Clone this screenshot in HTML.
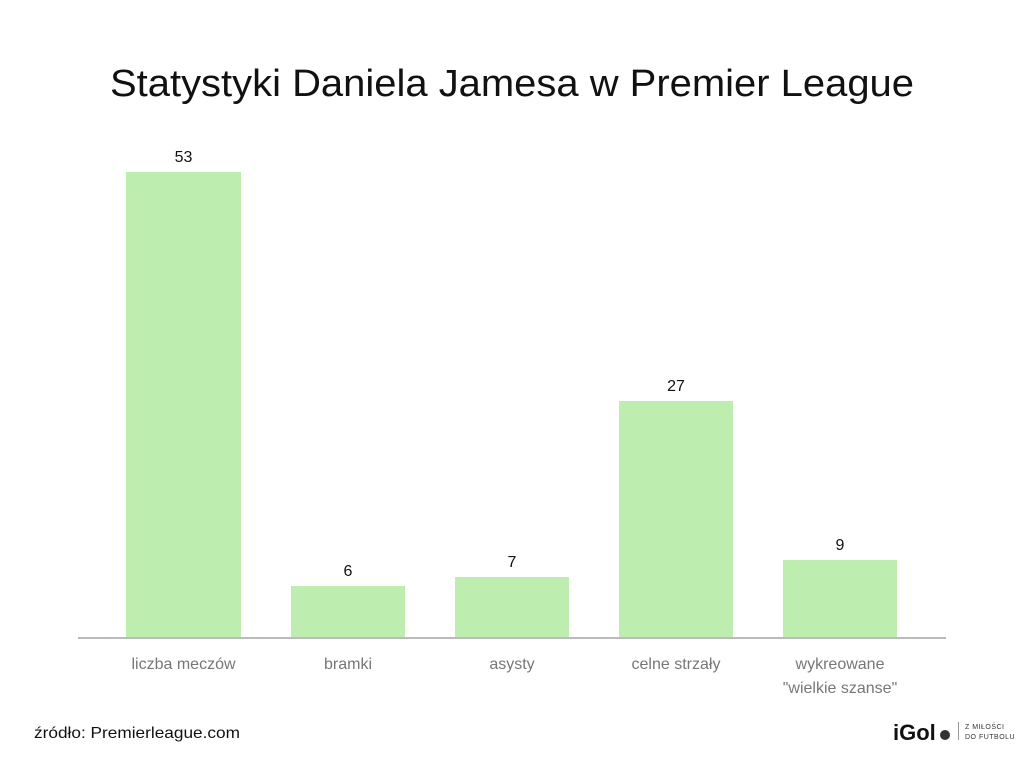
<!DOCTYPE html>
<html><head><meta charset="utf-8"><style>
html,body{margin:0;padding:0;background:#fff;}
svg{display:block;font-family:"Liberation Sans",sans-serif;}
</style></head><body>
<svg width="1024" height="768" viewBox="0 0 1024 768" xmlns="http://www.w3.org/2000/svg">
<rect width="1024" height="768" fill="#fff"/>
<text x="110" y="96" font-size="38" fill="#111" textLength="804" lengthAdjust="spacingAndGlyphs">Statystyki Daniela Jamesa w Premier League</text>
<g fill="#bdeeb0">
<rect x="126" y="172" width="115" height="466"/>
<rect x="291" y="586" width="114" height="52"/>
<rect x="455" y="577" width="114" height="61"/>
<rect x="619" y="401" width="114" height="237"/>
<rect x="783" y="560" width="114" height="78"/>
</g>
<rect x="78" y="637" width="868" height="2" fill="#bbbbbb"/>
<g font-size="16" fill="#111" text-anchor="middle">
<text x="183.5" y="162">53</text>
<text x="348" y="576">6</text>
<text x="512" y="567">7</text>
<text x="676" y="391">27</text>
<text x="840" y="550">9</text>
</g>
<g font-size="16" fill="#777" text-anchor="middle">
<text x="183.5" y="669">liczba meczów</text>
<text x="348" y="669">bramki</text>
<text x="512" y="669">asysty</text>
<text x="676" y="669">celne strzały</text>
<text x="840" y="669">wykreowane</text>
<text x="840" y="693">"wielkie szanse"</text>
</g>
<text x="34" y="738" font-size="16" fill="#111" textLength="206" lengthAdjust="spacingAndGlyphs">źródło: Premierleague.com</text>
<text x="893" y="740" font-size="22" font-weight="bold" fill="#111">iGol</text>
<circle cx="945" cy="735" r="5" fill="#333"/>
<rect x="958" y="722" width="1" height="18" fill="#999"/>
<text x="965" y="729" font-size="7" fill="#333" letter-spacing="0.5">Z MIŁOŚCI</text>
<text x="965" y="739" font-size="7" fill="#333" letter-spacing="0.5">DO FUTBOLU</text>
</svg>
</body></html>
